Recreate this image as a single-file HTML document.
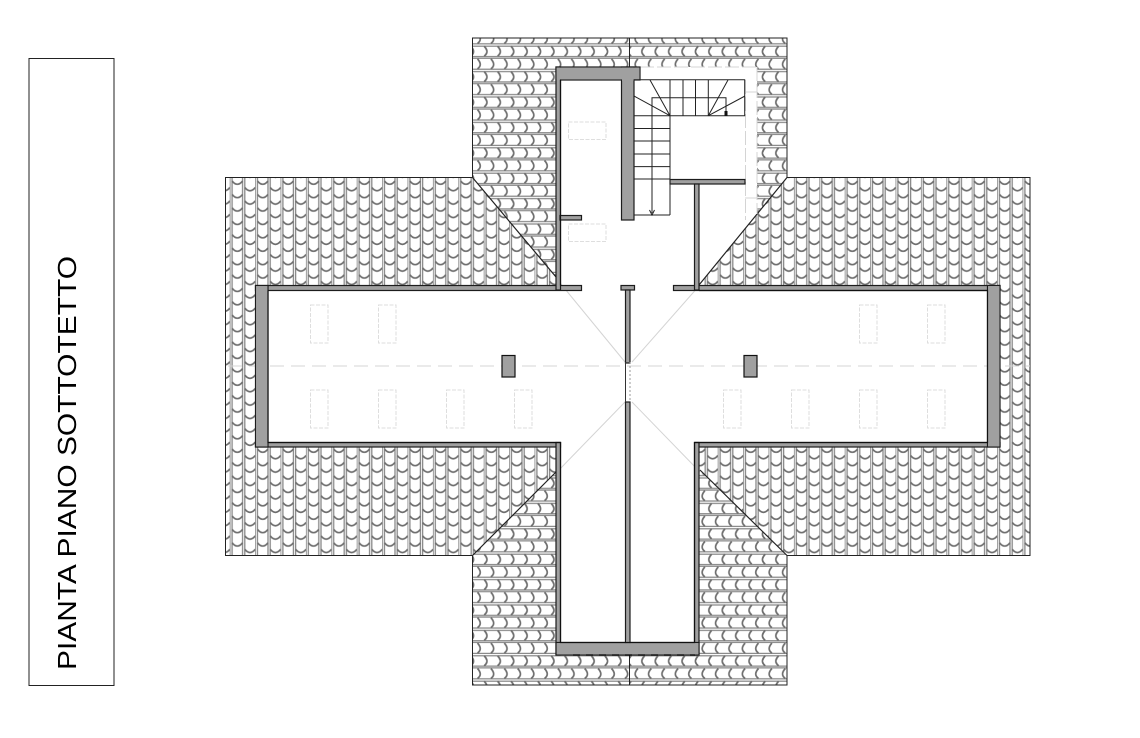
<!DOCTYPE html>
<html><head><meta charset="utf-8"><style>
html,body{margin:0;padding:0;background:#fff;width:1140px;height:738px;overflow:hidden}
svg{display:block}
</style></head><body>
<svg width="1140" height="738" viewBox="0 0 1140 738" xmlns="http://www.w3.org/2000/svg">
<defs>
<pattern id="hL" patternUnits="userSpaceOnUse" x="472.5" y="32" width="13.4" height="25.4">
 <g fill="none" stroke="#6e6e6e" stroke-width="1.7">
  <path d="M0 11.8H13.4M0 14.2H13.4M0 24.5H13.4M0 .9H13.4" stroke="#888" stroke-width="1.3"/>
  <path d="M5 1.5Q10.5 7.5 5 11.5"/>
  <path d="M11.7 14.2Q17 20 11.7 24.2M-1.7 14.2Q3.8 20 -1.7 24.2"/>
 </g>
</pattern>
<pattern id="hR" patternUnits="userSpaceOnUse" x="629.5" y="32" width="13.4" height="25.4">
 <g fill="none" stroke="#6e6e6e" stroke-width="1.7">
  <path d="M0 11.8H13.4M0 14.2H13.4M0 24.5H13.4M0 .9H13.4" stroke="#888" stroke-width="1.3"/>
  <path d="M8.4 1.5Q2.9 7.5 8.4 11.5"/>
  <path d="M1.7 14.2Q-3.6 20 1.7 24.2M15.1 14.2Q9.6 20 15.1 24.2"/>
 </g>
</pattern>
<pattern id="v" patternUnits="userSpaceOnUse" x="229.7" y="177" width="25.4" height="13.4">
 <g fill="none" stroke="#6e6e6e" stroke-width="1.7">
  <path d="M.2 0V13.4M2.4 0V13.4M12.9 0V13.4M15.1 0V13.4" stroke="#888" stroke-width="1.3"/>
  <path d="M2.4 4Q7.6 10.5 12.9 4"/>
  <path d="M15.1 10.5Q20.3 17 25.6 10.5M15.1 -2.9Q20.3 3.6 25.6 -2.9"/>
 </g>
</pattern>
<pattern id="vR" patternUnits="userSpaceOnUse" x="971.7" y="177" width="25.4" height="13.4">
 <g fill="none" stroke="#6e6e6e" stroke-width="1.7">
  <path d="M.2 0V13.4M2.4 0V13.4M12.9 0V13.4M15.1 0V13.4" stroke="#888" stroke-width="1.3"/>
  <path d="M2.4 4Q7.6 10.5 12.9 4"/>
  <path d="M15.1 10.5Q20.3 17 25.6 10.5M15.1 -2.9Q20.3 3.6 25.6 -2.9"/>
 </g>
</pattern>
</defs>

<rect width="1140" height="738" fill="#fff"/>

<!-- title -->
<rect x="29" y="58.5" width="85" height="627" fill="#fff" stroke="#222" stroke-width="1"/>
<text transform="translate(76 670) rotate(-90)" font-family="'Liberation Sans',sans-serif" font-size="26" fill="#000" textLength="414" lengthAdjust="spacingAndGlyphs">PIANTA PIANO SOTTOTETTO</text>

<!-- roof tiles -->
<polygon points="225.5,177.5 472.5,177.5 556,277 556,472 472.5,555.5 225.5,555.5" fill="url(#v)"/>
<polygon points="1030,177.5 787,177.5 699,285 699,470 787,555.5 1030,555.5" fill="url(#vR)"/>
<polygon points="472.5,38 629.5,38 629.5,290 556,277 472.5,177.5" fill="url(#hL)"/>
<polygon points="787,38 629.5,38 629.5,290 699,285 787,177.5" fill="url(#hR)"/>
<polygon points="472.5,555.5 556,472 629.5,472 629.5,685 472.5,685" fill="url(#hL)"/>
<polygon points="787,555.5 699,470 629.5,470 629.5,685 787,685" fill="url(#hR)"/>

<!-- white cut-out around the stairs -->
<polygon points="640,67 757,67 757,214 699,285 640,285" fill="#fff"/>

<!-- roof outlines -->
<g fill="none" stroke="#222" stroke-width="1">
 <path d="M472.5 177.5V38H787V177.5H1030V555.5H787V685H472.5V555.5H225.5V177.5H472.5"/>
 <path d="M472.5 177.5L556 277M787 177.5L699 285M472.5 555.5L556 472M787 555.5L700 470" stroke-width="1.2"/>
 <path d="M629.5 38V67M629.5 655V685"/>
</g>

<!-- interior -->
<polygon points="556,67 640,67 640,285 1000,285 1000,447 699,447 699,655 556,655 556,447 255.5,447 255.5,285 556,285" fill="#fff"/>

<!-- faint skylights -->
<g fill="none" stroke="#dedede" stroke-width="1" stroke-dasharray="4 1.5">
 <rect x="310.5" y="305" width="17.5" height="38"/><rect x="378.5" y="305" width="17.5" height="38"/>
 <rect x="859.5" y="305" width="17.5" height="38"/><rect x="927.5" y="305" width="17.5" height="38"/>
 <rect x="310.5" y="390" width="17.5" height="38"/><rect x="378.5" y="390" width="17.5" height="38"/>
 <rect x="446.5" y="390" width="17.5" height="38"/><rect x="514.5" y="390" width="17.5" height="38"/>
 <rect x="723.5" y="390" width="17.5" height="38"/><rect x="791.5" y="390" width="17.5" height="38"/>
 <rect x="859.5" y="390" width="17.5" height="38"/><rect x="927.5" y="390" width="17.5" height="38"/>
 <rect x="568.5" y="122" width="37.5" height="17.5"/><rect x="568.5" y="224" width="37.5" height="17.5"/>
</g>
<g fill="none" stroke="#d4d4d4" stroke-width="1">
 <path d="M745.5 80V220M757 67V214M640 67H757" stroke-dasharray="14 3"/>
 <path d="M745 92H757M745 198H757"/>
 <path d="M228 366H1030" stroke-dasharray="14 7"/>
 <path d="M556 278L625 362M699 286L632 362M557 472L625 402M700 472L632 402"/>
</g>

<!-- walls -->
<g fill="#a0a0a0" stroke="#1c1c1c" stroke-width="1.2">
 <rect x="255.5" y="285.5" width="326" height="5"/>
 <rect x="673.5" y="285.5" width="326.5" height="5"/>
 <rect x="255.5" y="442.5" width="305" height="4.5"/>
 <rect x="695" y="442.5" width="305" height="4.5"/>
 <rect x="255.5" y="285.5" width="12.5" height="161.5"/>
 <rect x="987.5" y="285.5" width="12.5" height="161.5"/>
 <rect x="556" y="67" width="84" height="13"/>
 <rect x="556" y="67" width="4.5" height="223"/>
 <rect x="621.5" y="67" width="12.5" height="153"/>
 <rect x="560" y="215.5" width="21.5" height="4.5"/>
 <rect x="556" y="442.5" width="4.5" height="212.5"/>
 <rect x="694.5" y="442.5" width="4.5" height="212.5"/>
 <rect x="556" y="642.5" width="143" height="12.5"/>
 <rect x="621" y="285.5" width="13.5" height="4.5"/>
 <rect x="625.5" y="290" width="4.5" height="73"/>
 <rect x="625.5" y="402" width="4.5" height="241"/>
 <rect x="670" y="179.5" width="75" height="4.5"/>
 <rect x="694.5" y="184" width="4.5" height="106"/>
 <rect x="502" y="355.5" width="13" height="21.5" stroke="#111"/>
 <rect x="744" y="355.5" width="13" height="21.5" stroke="#111"/>
</g>
<rect x="556.6" y="67.6" width="82.8" height="11.8" fill="#a0a0a0"/>
<rect x="622" y="78" width="11.5" height="3" fill="#a0a0a0"/>
<rect x="256.1" y="286.1" width="11.3" height="160.3" fill="#a0a0a0"/>
<rect x="988.1" y="286.1" width="11.3" height="160.3" fill="#a0a0a0"/>
<rect x="557" y="643.1" width="141.5" height="11.3" fill="#a0a0a0"/>
<rect x="626.1" y="640" width="3.3" height="3.2" fill="#a0a0a0"/>
<path d="M573 655H695" stroke="#000" stroke-width="1.2" stroke-dasharray="7 6" fill="none"/>
<path d="M625.5 362V402" stroke="#333" stroke-width="1" fill="none"/>
<path d="M630 362V402" stroke="#999" stroke-width="1" stroke-dasharray="2 2" fill="none"/>
<path d="M560.5 80V285.5M268 290.5V442.5H560.5V642.5H694.5V442.5H987.5V290.5H699" fill="none" stroke="#111" stroke-width="1.2"/>

<!-- stairs -->
<g fill="none" stroke="#222" stroke-width="1">
 <path d="M634 79.7H744.7V115.7H634"/>
 <path d="M670 79.7V215M683 79.7V115.7M695.5 79.7V115.7M708.3 79.7V115.7"/>
 <path d="M634 128.5H670M634 141H670M634 154H670M634 166.6H670M634 179H670M634 215H670"/>
 <path d="M670 115.7L650 80M670 115.7L634 96M708.3 115.7L728 80M708.3 115.7L745 96"/>
 <path d="M726 112V97.7H652V213"/>
 <path d="M649.5 210L652 215L654.5 210"/>
</g>
<rect x="724.5" y="111" width="3" height="5" fill="#111"/>
</svg>
</body></html>
